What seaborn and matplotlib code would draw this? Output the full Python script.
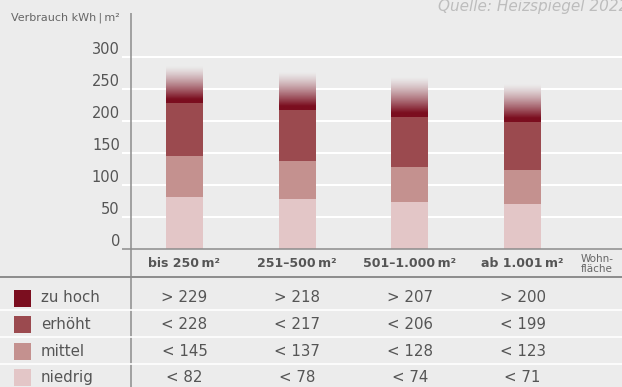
import numpy as np
import pandas as pd
import matplotlib
matplotlib.use("Agg")
import matplotlib.pyplot as plt
import seaborn as sns
from matplotlib.transforms import blended_transform_factory
from matplotlib.colors import to_rgb
from matplotlib.patches import Rectangle

# --- Daten: Heizenergieverbrauch nach Wohnfläche (kWh je m²) ---
kategorien = ["bis 250\u2009m²", "251–500\u2009m²", "501–1.000\u2009m²", "ab 1.001\u2009m²"]
niedrig = [82, 78, 74, 71]
mittel = [145, 137, 128, 123]
erhoeht = [228, 217, 206, 199]
zu_hoch = [229, 218, 207, 200]
verlauf_ende = [285, 276, 268, 258]   # obere Kante des auslaufenden "zu hoch"-Bereichs

stufen = ["zu hoch", "erhöht", "mittel", "niedrig"]
farben = {"zu hoch": "#7b0e1f", "erhöht": "#9b4a4f", "mittel": "#c4918f", "niedrig": "#e3c6c7"}
y_ticks = [0, 50, 100, 150, 200, 250, 300]

W, H = 622, 387
BG = "#ececec"
TEXT = "#555555"
LINE = "#8c8c8c"

sns.set_theme(style="white")
plt.rcParams["font.family"] = ["DejaVu Sans"]

fig = plt.figure(figsize=(W / 100, H / 100), dpi=100, facecolor=BG)

# Diagrammbereich (y: 0..320, Kategorien auf 0..3)
ax = fig.add_axes([122 / W, 1 - 249 / H, 500 / W, (249 - 44.5) / H])
ax.set_facecolor(BG)

# weiße Hilfslinien unter den Balken
for v in y_ticks[1:]:
    ax.axhline(v, color="white", linewidth=1.5, zorder=1)

df = pd.DataFrame({"Wohnfläche": kategorien, "niedrig": niedrig,
                   "mittel": mittel, "erhöht": erhoeht})
breite = 0.328
for stufe in ["erhöht", "mittel", "niedrig"]:
    sns.barplot(data=df, x="Wohnfläche", y=stufe, color=farben[stufe], width=breite,
                saturation=1, linewidth=0, errorbar=None, ax=ax, zorder=3)

# auslaufender Verlauf für "zu hoch": Farbe geht in den Hintergrund über
n = 64
t = (np.arange(n) + 0.5) / n
alpha = np.clip(1.12 * (1 - t), 0, 1) ** 1.3
dunkel = np.array(to_rgb(farben["zu hoch"]))
hell = np.array(to_rgb(BG))
verlauf = alpha[:, None] * dunkel + (1 - alpha[:, None]) * hell
bild = np.repeat(verlauf[:, None, :], 8, axis=1)
for i, (lo, hi) in enumerate(zip(erhoeht, verlauf_ende)):
    ax.imshow(bild, extent=(i - breite / 2, i + breite / 2, lo, hi), origin="lower",
              aspect="auto", interpolation="bilinear", zorder=4)

ax.set_xlim(-0.5547, 3.883)
ax.set_ylim(0, 320)
ax.set_yticks(y_ticks)
ax.set_yticklabels([str(v) for v in y_ticks], va="bottom")
ax.grid(False)
ax.tick_params(axis="y", length=0, pad=1.5, labelsize=10.5, labelcolor=TEXT)
ax.set_xticks(range(len(kategorien)))
ax.set_xticklabels(kategorien, fontweight="bold", fontsize=9, color=TEXT)
ax.tick_params(axis="x", length=0, pad=6)
ax.set_xlabel("")
ax.set_ylabel("")
for s in ax.spines.values():
    s.set_visible(False)

# Überlagerung in Pixelkoordinaten für Linien, Tabelle und Beschriftung
ov = fig.add_axes([0, 0, 1, 1])
ov.set_xlim(0, W)
ov.set_ylim(H, 0)
ov.axis("off")
ov.patch.set_visible(False)

ov.plot([131, 131], [13, H], color=LINE, lw=1.1, solid_capstyle="butt")
ov.plot([122, W], [249, 249], color=LINE, lw=1.1, solid_capstyle="butt")
ov.plot([0, W], [277, 277], color=LINE, lw=1.4, solid_capstyle="butt")
for y in [310, 337, 364]:
    ov.plot([0, W], [y, y], color="white", lw=1.2, solid_capstyle="butt", zorder=4)

ov.text(120, 18, "Verbrauch kWh\u2009|\u2009m²", ha="right", va="center",
        fontsize=8, color="#666666")
ov.text(438, 7, "Quelle: Heizspiegel 2022", ha="left", va="center", fontsize=11,
        fontstyle="italic", color="#bdbdbd")
ov.text(581, 264, "Wohn-\nfläche", ha="left", va="center", fontsize=7.5,
        color="#666666", linespacing=0.9)

# Tabelle mit Grenzwerten
zeilen_y = [298, 324.5, 351, 377.5]
werte = {
    "zu hoch": [f"> {v}" for v in zu_hoch],
    "erhöht": [f"< {v}" for v in erhoeht],
    "mittel": [f"< {v}" for v in mittel],
    "niedrig": [f"< {v}" for v in niedrig],
}
trans = blended_transform_factory(ax.transData, ov.transData)
for stufe, y in zip(stufen, zeilen_y):
    ov.add_patch(Rectangle((14, y - 8.5), 17, 17, facecolor=farben[stufe],
                           edgecolor="none", zorder=5))
    ov.text(41, y, stufe, ha="left", va="center", fontsize=10.8, color=TEXT)
    for i, txt in enumerate(werte[stufe]):
        ov.text(i, y, txt, transform=trans, ha="center", va="center",
                fontsize=10.8, color=TEXT)

fig.savefig("out.png", dpi=100, facecolor=BG)
